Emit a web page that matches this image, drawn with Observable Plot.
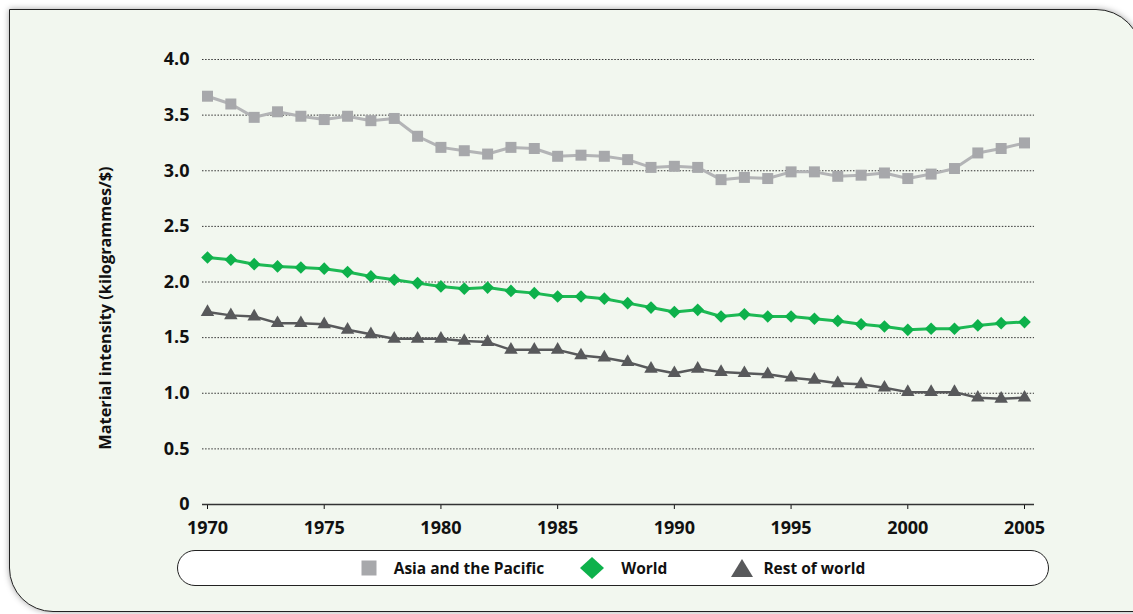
<!DOCTYPE html>
<html>
<head>
<meta charset="utf-8">
<script src="https://cdn.jsdelivr.net/npm/d3@7"></script>
<script src="https://cdn.jsdelivr.net/npm/@observablehq/plot@0.6"></script>
<style>
  html, body { margin: 0; padding: 0; background: #fff; width: 1133px; height: 614px; overflow: hidden; }
  body { font-family: "Open Sans", "DejaVu Sans", sans-serif; position: relative; }
  #panel { position: absolute; left: 9px; top: 9px; width: 1133px; height: 603px; box-sizing: border-box;
    background: #f2f7ef; border: 1.5px solid #222; border-top-right-radius: 46px; border-bottom-left-radius: 44px;
    box-shadow: 0 0 6px rgba(0,0,0,0.35); }
  #chart { position: absolute; left: 0; top: 0; }
  #ytitle { position: absolute; left: 105px; top: 308px; transform: translate(-50%, -50%) rotate(-90deg);
    white-space: nowrap; font-weight: 700; font-size: 16.3px; color: #111; }
  #legend { position: absolute; left: 177px; top: 550px; width: 872px; height: 36px; box-sizing: border-box;
    border: 1.5px solid #222; border-radius: 18px; background: #fff; display: flex; align-items: center;
    justify-content: center; font-weight: 700; font-size: 15.5px; color: #111; }
  #legend svg { display: block; }
  .item { display: flex; align-items: center; }
</style>
</head>
<body>
<div id="panel"></div>
<div id="chart"></div>
<div id="ytitle"></div>
<div id="legend"></div>
<script>
// ---- data ----
const years = [1970,1971,1972,1973,1974,1975,1976,1977,1978,1979,1980,1981,1982,1983,1984,1985,1986,1987,
  1988,1989,1990,1991,1992,1993,1994,1995,1996,1997,1998,1999,2000,2001,2002,2003,2004,2005];
const asiaPacific = [3.67,3.60,3.48,3.53,3.49,3.46,3.49,3.45,3.47,3.31,3.21,3.18,3.15,3.21,3.20,3.13,3.14,3.13,
  3.10,3.03,3.04,3.03,2.92,2.94,2.93,2.99,2.99,2.95,2.96,2.98,2.93,2.97,3.02,3.16,3.20,3.25];
const world = [2.22,2.20,2.16,2.14,2.13,2.12,2.09,2.05,2.02,1.99,1.96,1.94,1.95,1.92,1.90,1.87,1.87,1.85,
  1.81,1.77,1.73,1.75,1.69,1.71,1.69,1.69,1.67,1.65,1.62,1.60,1.57,1.58,1.58,1.61,1.63,1.64];
const restOfWorld = [1.73,1.70,1.69,1.63,1.63,1.62,1.57,1.53,1.49,1.49,1.49,1.47,1.46,1.39,1.39,1.39,1.34,1.32,
  1.28,1.22,1.18,1.22,1.19,1.18,1.17,1.14,1.12,1.09,1.08,1.05,1.01,1.01,1.01,0.96,0.95,0.96];
const seriesNames = ["Asia and the Pacific", "World", "Rest of world"];
const xTicks = [1970, 1975, 1980, 1985, 1990, 1995, 2000, 2005];
const yTicks = [0, 0.5, 1.0, 1.5, 2.0, 2.5, 3.0, 3.5, 4.0];
const yTitle = "Material intensity (kilogrammes/$)";

// ---- styles ----
const colors = { "Asia and the Pacific": "#a7a8ab", "World": "#0db14b", "Rest of world": "#58595b" };
const lineColors = { "Asia and the Pacific": "#b3b4b6", "World": "#1db954", "Rest of world": "#58595b" };
const symbols = { "Asia and the Pacific": "square", "World": "diamond2", "Rest of world": "triangle" };
const radii = { "Asia and the Pacific": 6.2, "World": 5.7, "Rest of world": 5.0 };

const seriesValues = [asiaPacific, world, restOfWorld];
const rows = seriesNames.map((name, i) => years.map((y, j) => ({ series: name, year: y, value: seriesValues[i][j] })));

const marks = [
  Plot.ruleY(yTicks.filter(d => d > 0), { y: d => d, stroke: "#333", strokeWidth: 1, strokeDasharray: "1.5,1.6" }),
  Plot.ruleY([0], { stroke: "#333", strokeWidth: 1.3 })
];
rows.forEach((data, i) => {
  const name = seriesNames[i];
  marks.push(Plot.line(data, { x: "year", y: "value", stroke: lineColors[name], strokeWidth: i === 2 ? 2.5 : 3 }));
});
rows.forEach((data, i) => {
  const name = seriesNames[i];
  marks.push(Plot.dot(data, { x: "year", y: "value", symbol: () => symbols[name], fill: colors[name], r: radii[name], stroke: "none" }));
});

const chart = Plot.plot({
  width: 1133,
  height: 545,
  marginLeft: 202,
  marginRight: 99,
  marginTop: 59,
  marginBottom: 41,
  style: { background: "transparent", fontFamily: "'Open Sans', sans-serif", fontSize: "18px", fontWeight: "700", color: "#111" },
  symbol: { type: "identity" },
  x: { domain: [1970, 2005], insetLeft: 5, insetRight: 10, ticks: xTicks, tickSize: 5, tickPadding: 12,
       tickFormat: d => String(d), label: null },
  y: { domain: [0, 4], ticks: yTicks, tickSize: 0, tickPadding: 13,
       tickFormat: d => d === 0 ? "0" : d.toFixed(1), label: null },
  marks
});
document.getElementById("chart").appendChild(chart);
document.getElementById("ytitle").textContent = yTitle;

// ---- legend ----
const legendShapes = {
  "Asia and the Pacific": `<svg width="16" height="16"><rect x="0.5" y="0.5" width="15" height="15" fill="${colors["Asia and the Pacific"]}"/></svg>`,
  "World": `<svg width="24" height="22"><path d="M12,0 L24,11 L12,22 L0,11 Z" fill="${colors["World"]}"/></svg>`,
  "Rest of world": `<svg width="22" height="19"><path d="M11,0 L22,18 L0,18 Z" fill="${colors["Rest of world"]}"/></svg>`
};
const gaps = [[0, 17], [36, 17], [64, 10]];
const legend = document.getElementById("legend");
seriesNames.forEach((name, i) => {
  const item = document.createElement("div");
  item.className = "item";
  item.style.marginLeft = gaps[i][0] + "px";
  item.innerHTML = legendShapes[name] + `<span style="margin-left:${gaps[i][1]}px">${name}</span>`;
  legend.appendChild(item);
});
</script>
</body>
</html>
